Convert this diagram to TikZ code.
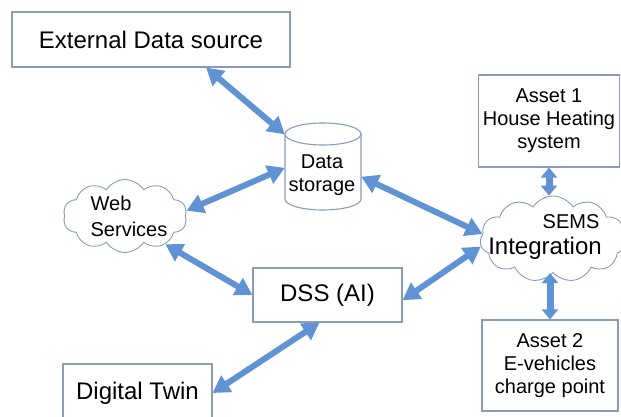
\documentclass[tikz,border=0pt]{standalone}
\usepackage{fontspec}
\setmainfont{Liberation Sans}
\usetikzlibrary{shapes.symbols,arrows.meta,positioning}
\definecolor{setaazul}{HTML}{5F93D3}
\definecolor{borda}{HTML}{8A9BBE}

\begin{document}
\begin{tikzpicture}[x=1pt,y=-1pt,
    every node/.style={align=center,text=black},
    bloco/.style={draw=borda,line width=1.1pt,fill=white,inner sep=0pt},
    nuvem/.style={cloud,cloud puffs=10,cloud puff arc=115,cloud ignores aspect,draw=borda,line width=0.9pt,fill=white,inner sep=0pt},
    grande/.style={font=\fontsize{24}{27}\selectfont},
    medio/.style={font=\fontsize{20}{23}\selectfont},
    seta/.style={draw=setaazul,line width=6pt,{Triangle[length=17pt,width=19pt]}-{Triangle[length=17pt,width=19pt]}},
    setacurta/.style={draw=setaazul,line width=7pt,{Triangle[length=10pt,width=16pt]}-{Triangle[length=10pt,width=16pt]}},
  ]
  \useasboundingbox (0,0) rectangle (621,417);

  % blocos
  \node[bloco,grande,minimum width=278,minimum height=55] (ext) at (151,39.5) {External Data source};
  \node[bloco,grande,minimum width=149,minimum height=54] (dss) at (327.5,295) {DSS (AI)};
  \node[bloco,grande,minimum width=149,minimum height=58] (twin) at (137.5,393) {Digital Twin};
  \node[bloco,medio,minimum width=141,minimum height=92] (asset1) at (549,121) {Asset 1\\House Heating\\system};
  \node[bloco,medio,minimum width=136,minimum height=91] (asset2) at (550,365.5) {Asset 2\\E-vehicles\\charge point};

  % armazenamento (cilindro)
  \node[minimum width=76,minimum height=87,inner sep=0pt] (store) at (323,166.5) {};
  \draw[borda,line width=1.1pt,fill=white] (285,134) -- (285,199) arc (180:0:38 and 11)
    -- (361,134) arc (0:-180:38 and 11) -- cycle;
  \draw[borda,line width=1.1pt] (285,134) arc (180:0:38 and 11);
  \node[medio] (storetxt) at (322,175) {Data\\storage};

  % nuvens
  \node[nuvem,minimum width=124,minimum height=73] (web) at (125,216) {};
  \node[font=\fontsize{20}{26}\selectfont,align=left] (webtxt) at (129,216) {Web\\Services};
  \node[nuvem,cloud puffs=11,minimum width=146,minimum height=86] (sems) at (553,239) {};
  \node[medio] (semstxt) at (571,222) {SEMS};
  \node[grande] (integtxt) at (545,248) {Integration};

  % ligacoes
  \draw[seta] (ext.-27) -- (store.140);
  \draw[seta] (web.5) -- (store.182);
  \draw[seta] (store.-15) -- (sems.176);
  \draw[seta] (web.-35) -- (dss.west);
  \draw[seta] (dss.-4) -- (sems.186);
  \draw[seta] (twin.east) -- (dss.-106);
  \draw[setacurta] (asset1.south) -- (asset1.south |- sems.north);
  \draw[setacurta] (sems.south -| asset2.north) -- (asset2.north);
\end{tikzpicture}
\end{document}
